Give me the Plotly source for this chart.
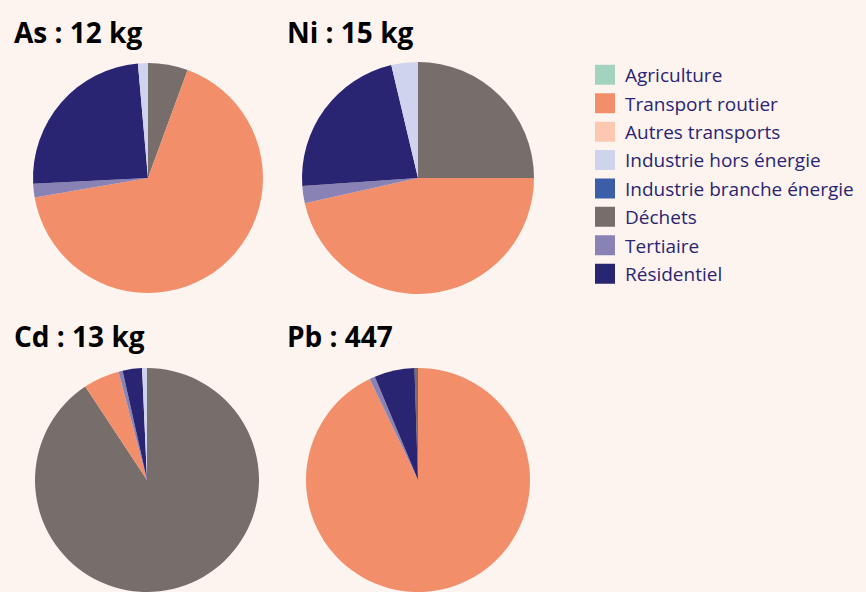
import plotly.graph_objects as go

# Legend categories and colours
categories = ["Agriculture", "Transport routier", "Autres transports",
              "Industrie hors énergie", "Industrie branche énergie",
              "Déchets", "Tertiaire", "Résidentiel"]
colors = ["#a3d3bf", "#f28e6a", "#fcc8b2", "#cfd3ed", "#3c5ea8",
          "#776e6b", "#8982b4", "#2a2573"]

# Slice drawing order (clockwise from the top)
slice_order = ["Déchets", "Transport routier", "Tertiaire", "Résidentiel",
               "Industrie hors énergie"]

# Shares (%) per pollutant, in slice_order
as_values = [5.6, 66.7, 1.9, 24.4, 1.4]
ni_values = [25.0, 46.5, 2.4, 22.4, 3.7]
cd_values = [90.7, 5.2, 0.6, 2.8, 0.7]
pb_values = [0.5, 92.9, 0.8, 5.8, 0.0]

titles = ["As : 12 kg", "Ni : 15 kg", "Cd : 13 kg", "Pb : 447"]

W, H = 866, 592
BG = "#fef4ef"
color_map = dict(zip(categories, colors))

fig = go.Figure()

def px_domain(x0, x1, y0, y1):
    return dict(x=[x0 / W, x1 / W], y=[max(0, 1 - y1 / H), min(1, 1 - y0 / H)])

pies = [
    (as_values, px_domain(33, 263, 63, 293), 0),
    (ni_values, px_domain(302, 534, 62, 294), 0),
    (cd_values, px_domain(35, 259, 368, 592), 0),
    (pb_values, px_domain(306, 530, 368, 592), None),
]
for vals, dom, rot in pies:
    if rot is None:
        rot = -vals[0] / sum(vals) * 360
    fig.add_trace(go.Pie(
        labels=slice_order, values=vals, sort=False, direction="clockwise",
        rotation=rot, domain=dom, textinfo="none", hoverinfo="label+percent",
        marker=dict(colors=[color_map[c] for c in slice_order], line=dict(width=0)),
        showlegend=False,
    ))

# Legend entries
for i, (cat, col) in enumerate(zip(categories, colors)):
    fig.add_trace(go.Scatter(
        x=[None], y=[None], mode="markers", name=cat, legendgroup=cat,
        marker=dict(symbol="square", size=16, color=col, line=dict(width=4, color=col)),
        showlegend=True,
    ))

title_pos = [(12, 32), (285, 32), (12, 336), (285, 336)]
for t, (x, y) in zip(titles, title_pos):
    fig.add_annotation(text=f"<b>{t}</b>", x=x / W, y=1 - y / H, xref="paper", yref="paper",
                       xanchor="left", yanchor="middle", showarrow=False,
                       font=dict(family="Open Sans", size=28, color="#000000"))

fig.update_layout(
    width=W, height=H, margin=dict(l=0, r=0, t=0, b=0),
    paper_bgcolor=BG, plot_bgcolor=BG,
    xaxis=dict(visible=False), yaxis=dict(visible=False),
    legend=dict(x=585 / W, y=1 - 56 / H, xanchor="left", yanchor="top",
                bgcolor="rgba(0,0,0,0)", traceorder="grouped", tracegroupgap=0.7,
                font=dict(family="Open Sans", size=19, color="#2a2573"),
                itemclick=False, itemdoubleclick=False),
    showlegend=True,
)

fig.write_html("out.html", config={"displayModeBar": False},
               post_script="document.body.style.margin='0';")
